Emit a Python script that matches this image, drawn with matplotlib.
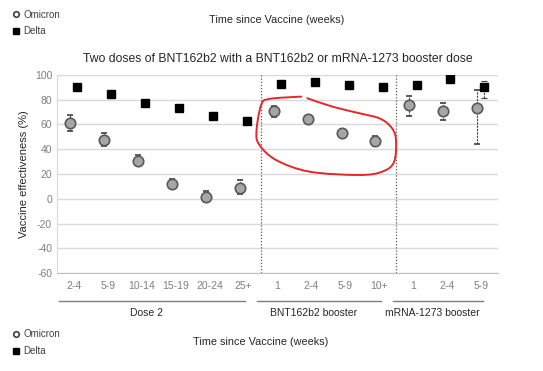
import numpy as np
import matplotlib
matplotlib.use('Agg')
import matplotlib.pyplot as plt
from matplotlib.lines import Line2D
from matplotlib.path import Path
from matplotlib.patches import PathPatch

plt.rcParams['font.family'] = ['Liberation Sans', 'DejaVu Sans']
plt.rcParams['axes.unicode_minus'] = False

# --- data ---
categories = ["2-4", "5-9", "10-14", "15-19", "20-24", "25+",
              "1", "2-4", "5-9", "10+",
              "1", "2-4", "5-9"]
groups = ["Dose 2", "BNT162b2 booster", "mRNA-1273 booster"]
group_sizes = [6, 4, 3]

omicron = [61, 47.5, 30.5, 12, 1.5, 9, 70.5, 64.5, 53, 46.5, 76, 70.5, 73]
omicron_lo = [55, 43, 28, 9, -3, 4, 66, 62, 51.5, 43, 67, 63.5, 44]
omicron_hi = [68, 53, 35, 16, 6, 15, 75, 67, 54.5, 51, 83, 77, 87.5]

delta = [90.5, 85, 77.5, 73.5, 66.5, 62.5, 92.5, 94.5, 91.5, 90.5, 91.5, 96.5, 90.5]
delta_lo = [89.5, 84, 76.5, 72.5, 65.5, 61.5, 91.5, 93.5, 90.5, 89.5, 90.5, 95.5, 81.5]
delta_hi = [91.5, 86, 78.5, 74.5, 67.5, 63.5, 93.5, 95.5, 92.5, 91.5, 92.5, 97.5, 95]

# hand-drawn red loop (category index, value)
loop_x = [6.70, 5.76, 5.52, 5.38, 5.47, 5.96, 6.94, 8.41, 9.09, 9.44, 9.49,
          9.34, 9.00, 8.41, 7.62, 6.88]
loop_y = [82.5, 80.6, 75.8, 54.2, 43.4, 31.3, 21.9, 19.2, 21.9, 29.9, 48.8,
          58.2, 65.0, 69.1, 74.4, 81.2]

GRAY = '#7f7f7f'
DARK = '#404040'

fig = plt.figure(figsize=(5.43, 3.71), dpi=100)
ax = fig.add_axes([0.105, 0.264, 0.812, 0.534])

x = np.arange(len(categories))
om = np.array(omicron)
de = np.array(delta)

ax.set_ylim(-60, 100)
ax.set_xlim(-0.5, len(categories) - 0.5)
ax.set_yticks(np.arange(-60, 101, 20))
ax.yaxis.grid(True, color='#d9d9d9', linewidth=1)
ax.set_axisbelow(True)
for s in ['top', 'right']:
    ax.spines[s].set_visible(False)
ax.spines['left'].set_color('#d9d9d9')
ax.spines['bottom'].set_color('#bfbfbf')
ax.tick_params(length=0, colors=GRAY, labelsize=7.5)
ax.set_xticks(x)
ax.set_xticklabels(categories)
ax.tick_params(axis='x', pad=6)

# group dividers
edges = np.cumsum(group_sizes)[:-1] - 0.5
for e in edges:
    ax.axvline(e, color='#595959', linestyle=(0, (1, 1.5)), linewidth=0.9)

# error bars + markers
eb = ax.errorbar(x + 0.1, de, yerr=[de - np.array(delta_lo), np.array(delta_hi) - de],
                 fmt='s', color='black', markersize=6, ecolor=DARK, elinewidth=0.8,
                 capsize=2, capthick=0.8, zorder=3)
eb[2][0].set_linestyle((0, (2, 1)))
eb = ax.errorbar(x - 0.11, om, yerr=[om - np.array(omicron_lo), np.array(omicron_hi) - om],
                 fmt='o', markerfacecolor='#a6a6a6', markeredgecolor='#595959',
                 markeredgewidth=1.2, markersize=7.5, ecolor=DARK, elinewidth=0.8,
                 capsize=2, capthick=0.8, zorder=4)
eb[2][0].set_linestyle((0, (2, 1)))

# red hand-drawn loop, smoothed as a bezier path through the points (display space)
pts = ax.transData.transform(np.column_stack([loop_x, loop_y]))
verts = [pts[0]]
codes = [Path.MOVETO]
for i in range(len(pts) - 1):
    p0 = pts[max(i - 1, 0)]
    p1, p2 = pts[i], pts[i + 1]
    p3 = pts[min(i + 2, len(pts) - 1)]
    verts += [p1 + (p2 - p0) / 6, p2 - (p3 - p1) / 6, p2]
    codes += [Path.CURVE4] * 3
loop = PathPatch(Path(ax.transData.inverted().transform(verts), codes),
                 facecolor='none', edgecolor='#e8262a', linewidth=1.4,
                 capstyle='round', zorder=5)
ax.add_patch(loop)

ax.set_ylabel('Vaccine effectiveness (%)', fontsize=8, color='#262626', labelpad=4)
ax.set_title('Two doses of BNT162b2 with a BNT162b2 or mRNA-1273 booster dose',
             fontsize=8.8, color='#262626', pad=9)

# group underline + labels
start = -0.5
for g, n in zip(groups, group_sizes):
    left = max(start - 0.1, -0.45)
    right = start + n - 0.45
    ax.plot([left, right], [-82.6, -82.6], color=GRAY, linewidth=1, clip_on=False)
    ax.text((left + right) / 2 - 0.15, -92.3, g, ha='center', va='center', fontsize=7.5,
            color='#262626', clip_on=False)
    start += n

# legends and axis titles (duplicated top and bottom)
handles = [Line2D([], [], marker='o', linestyle='none', markerfacecolor='white',
                  markeredgecolor=DARK, markeredgewidth=1.2, markersize=4),
           Line2D([], [], marker='s', linestyle='none', color='black', markersize=4)]
for yy in [0.99, 0.128]:
    fig.legend(handles, ['Omicron', 'Delta'], loc='upper left', bbox_to_anchor=(0.012, yy),
               frameon=False, fontsize=7, handletextpad=0.3, handlelength=0.8,
               labelspacing=0.7, labelcolor='#404040', borderaxespad=0.2)
fig.text(0.51, 0.945, 'Time since Vaccine (weeks)', ha='center', va='center',
         fontsize=7.8, color='#262626')
fig.text(0.48, 0.078, 'Time since Vaccine (weeks)', ha='center', va='center',
         fontsize=7.8, color='#262626')

fig.savefig('out.png', dpi=100)
